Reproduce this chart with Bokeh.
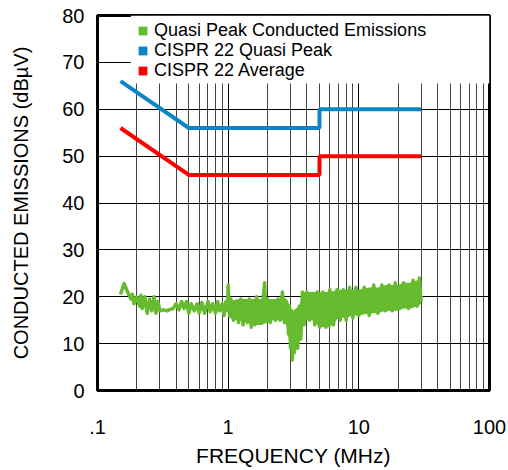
from bokeh.plotting import figure
from bokeh.models import FixedTicker, Legend, LegendItem, BoxAnnotation
from bokeh.embed import file_html
from bokeh.resources import INLINE

# ---- axes ----
freq_major = [0.1, 1, 10, 100]
freq_minor = [0.2, 0.3, 0.4, 0.5, 0.6, 0.7, 0.8, 0.9,
              2, 3, 4, 5, 6, 7, 8, 9,
              20, 30, 40, 50, 60, 70, 80, 90]
x_labels = {0.1: ".1", 1: "1", 10: "10", 100: "100"}
db_ticks = [0, 10, 20, 30, 40, 50, 60, 70, 80]

# ---- CISPR 22 limits ----
limit_f = [0.15, 0.5, 5, 5, 30]
qp_limit = [66, 56, 56, 60, 60]
avg_limit = [56, 46, 46, 50, 50]

trace_f = [0.15, 0.16, 0.17, 0.18, 0.185, 0.19, 0.20, 0.21, 0.215, 0.22, 0.23, 0.24, 0.25, 0.26, 0.27, 0.28, 0.29, 0.30,
           0.32, 0.34, 0.36, 0.38, 0.40, 0.42, 0.44, 0.46, 0.48, 0.50, 0.52, 0.55, 0.58, 0.60, 0.63, 0.66, 0.70, 0.73,
           0.76, 0.80, 0.83, 0.86, 0.90, 0.93, 0.96, 0.99, 1.0, 1.02,
           1.05, 1.1, 1.15, 1.2, 1.25, 1.3, 1.35, 1.4, 1.45, 1.5, 1.55, 1.6, 1.65, 1.7, 1.75, 1.8, 1.85, 1.9, 1.95, 2.0,
           2.1, 2.2, 2.3, 2.4, 2.5, 2.6, 2.7, 2.8, 2.9, 2.95, 3.0, 3.05, 3.1, 3.15, 3.2, 3.3, 3.4, 3.5, 3.6, 3.7,
           3.8, 4.0, 4.2, 4.4, 4.6, 4.8, 5.0, 5.3, 5.6, 6.0, 6.4, 6.8, 7.2, 7.6, 8.0, 8.5, 9, 9.5, 10,
           11, 12, 13, 14, 15, 16, 17, 18, 19, 20, 22, 24, 26, 28, 29, 30]
trace_db = [20.5, 22.8, 21, 19.5, 20.5, 18.5, 20, 18, 20.3, 17.5, 20, 16.5, 19.5, 17, 20, 16.5, 19, 17,
            17.2, 17, 17.3, 17.5, 18.5, 17.2, 19, 17.5, 19, 16.5, 18.5, 17, 18.5, 16.5, 18.8, 16.5, 19, 16.8,
            18.5, 16.5, 19, 17, 18.5, 16, 19, 17, 22.5, 17,
            19.5, 15, 19, 14.5, 19.5, 14, 19, 14.5, 19.5, 13.5, 19, 14, 20, 14.5, 19, 15, 19.5, 23, 15, 19.5,
            14.5, 19, 15, 19.5, 15, 21, 14.5, 19, 12, 18, 9, 17, 6.5, 16, 8, 17, 9, 18, 11, 21,
            14, 21, 15, 20.5, 14, 21, 13.5, 21, 13.5, 21.5, 14, 21.5, 15, 21.5, 15, 22, 15.5, 22, 16,
            22, 16, 22.5, 16.5, 22.5, 17, 22.5, 17, 23, 17.5, 23, 17.5, 23.5, 18, 24, 19]

# envelope of the dense part of the trace
band_f = [1.0, 1.2, 1.4, 1.6, 1.8, 2.0, 2.2, 2.4, 2.6, 2.8, 2.95, 3.05, 3.15, 3.3, 3.5, 3.7, 3.8, 4.5, 5, 6,
          7, 8, 9, 10, 12, 14, 16, 18, 20, 22, 25, 28, 30]
band_hi = [19, 19.5, 19.5, 19.5, 19.5, 19.5, 19.5, 19.5, 20, 19.5, 18, 17, 17, 17.5, 18, 20.5, 21, 21, 21, 21,
           21.5, 21.5, 21.5, 21.5, 22, 22, 22.5, 22.5, 22.5, 23, 23, 23.5, 23.5]
band_lo = [15.5, 15, 14.5, 14, 14, 14.5, 15, 15, 15, 14, 10, 8, 9, 9.5, 10, 14, 15, 15, 13.5, 13.5,
           15.5, 15.5, 16, 16, 16.5, 16.5, 17, 17, 17, 17.5, 17.5, 18, 18.5]

legend_labels = ["Quasi Peak Conducted Emissions", "CISPR 22 Quasi Peak", "CISPR 22 Average"]

GREEN = "#66bb2e"
BLUE = "#0a86c8"
RED = "#ff0000"
FONT = "Liberation Sans"

p = figure(width=508, height=470, x_axis_type="log", x_range=(0.1, 100), y_range=(0, 80),
           output_backend="svg", toolbar_location=None,
           min_border_left=97, min_border_right=19, min_border_top=15, min_border_bottom=80)
p.background_fill_color = "white"
p.border_fill_color = "white"
p.outline_line_color = "black"
p.outline_line_width = 3

xt = FixedTicker(ticks=freq_major, minor_ticks=freq_minor)
p.xaxis.ticker = xt
p.xgrid.ticker = xt
p.xaxis.major_label_overrides = x_labels
p.yaxis.ticker = FixedTicker(ticks=db_ticks)

p.xgrid.grid_line_color = "black"
p.xgrid.grid_line_width = 1
p.xgrid.minor_grid_line_color = "#444444"
p.xgrid.minor_grid_line_width = 1
p.ygrid.grid_line_color = "black"
p.ygrid.grid_line_width = 1

for ax in (p.xaxis, p.yaxis):
    ax.axis_line_color = None
    ax.major_tick_line_color = None
    ax.minor_tick_line_color = None
    ax.major_tick_out = 0
    ax.minor_tick_out = 0
    ax.major_label_text_font = FONT
    ax.major_label_text_font_size = "20px"
    ax.major_label_text_color = "black"
    ax.axis_label_text_font = FONT
    ax.axis_label_text_font_size = "20px"
    ax.axis_label_text_font_style = "normal"
    ax.axis_label_text_color = "black"

p.xaxis.axis_label = "FREQUENCY (MHz)"
p.yaxis.axis_label = "CONDUCTED EMISSIONS (dB\u00b5V)"
p.xaxis.axis_label_text_font_size = "21px"
p.xaxis.major_label_standoff = 29
p.xaxis.axis_label_standoff = 7
p.yaxis.major_label_standoff = 13
p.yaxis.axis_label_standoff = 27

# white area behind legend (hides grid)
p.add_layout(BoxAnnotation(left=0.18, right=100, bottom=65.5, top=80,
                           fill_color="white", fill_alpha=1, line_color=None, level="underlay"))

band_r = p.varea(x=band_f, y1=band_lo, y2=band_hi, fill_color=GREEN, fill_alpha=1)
p.line(trace_f, trace_db, line_color=GREEN, line_width=3.5, line_join="round")

qp_key = p.varea(x=limit_f, y1=qp_limit, y2=qp_limit, fill_color=BLUE, fill_alpha=1)
avg_key = p.varea(x=limit_f, y1=avg_limit, y2=avg_limit, fill_color=RED, fill_alpha=1)
p.line(limit_f, qp_limit, line_color=BLUE, line_width=4)
p.line(limit_f, avg_limit, line_color=RED, line_width=4)

# one single-row legend per entry, stacked ~20 px apart
for i, (lab, rend) in enumerate(zip(legend_labels, [band_r, qp_key, avg_key])):
    lg = Legend(items=[LegendItem(label=lab, renderers=[rend])], location=(40, 349 - 20.2 * i))
    lg.label_text_font = FONT
    lg.label_text_font_size = "18px"
    lg.label_text_color = "black"
    lg.glyph_width = 11
    lg.glyph_height = 11
    lg.label_height = 18
    lg.label_standoff = 6
    lg.spacing = 0
    lg.padding = 0
    lg.margin = 0
    lg.border_line_color = None
    lg.background_fill_color = "white"
    lg.background_fill_alpha = 0
    p.add_layout(lg)

open("out.html", "w").write(file_html(p, INLINE))
